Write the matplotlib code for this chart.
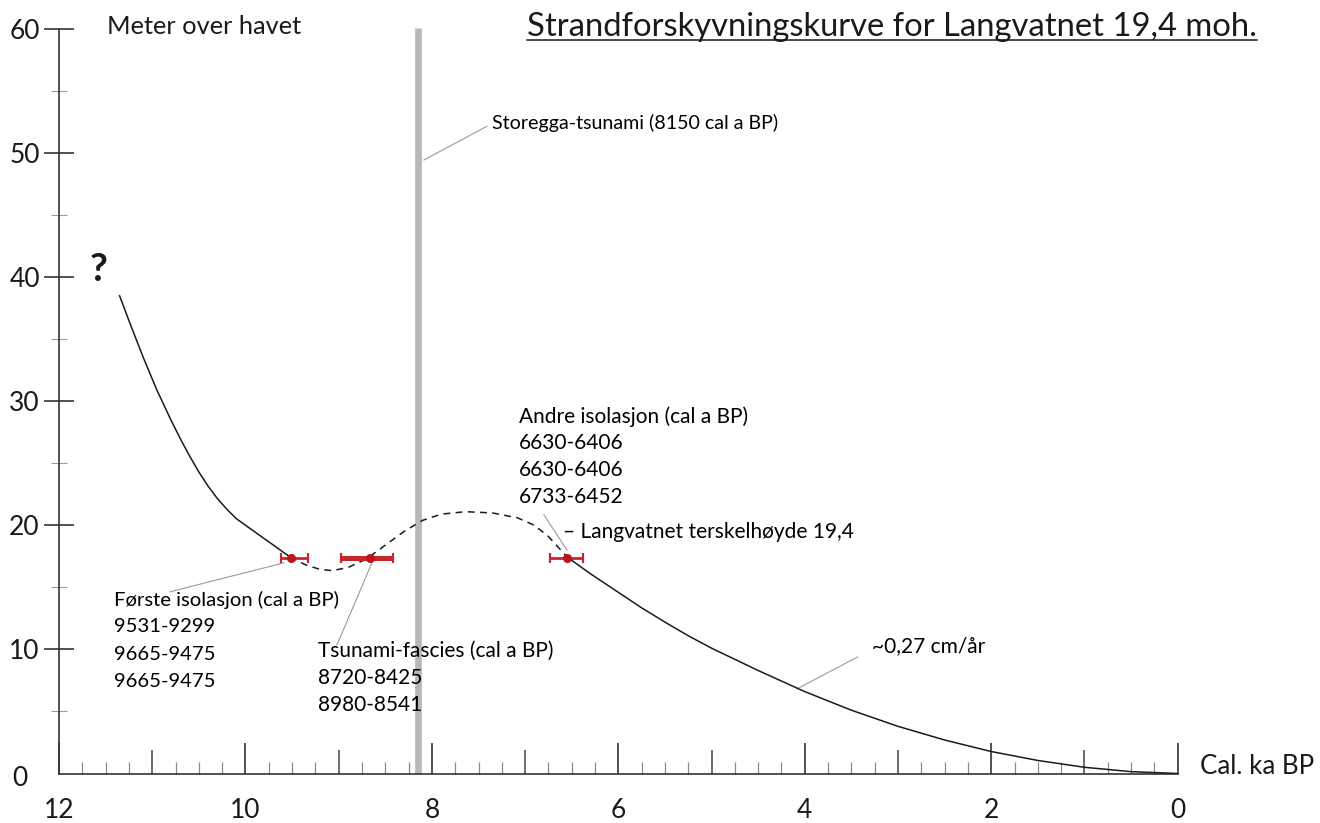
import matplotlib
matplotlib.use("Agg")
import matplotlib.pyplot as plt
from matplotlib.ticker import FixedLocator, NullFormatter
from matplotlib.transforms import ScaledTranslation

plt.rcParams['font.family'] = ['Lato', 'DejaVu Sans']

# strandlinje, heltrukket (eldste del)
old_x = [11.35, 11.25, 11.1, 10.95, 10.8, 10.7, 10.6, 10.5, 10.4, 10.3, 10.2, 10.1, 9.97, 9.52]
old_y = [38.5, 36.5, 33.6, 30.9, 28.5, 27.0, 25.6, 24.3, 23.15, 22.15, 21.3, 20.55, 19.85, 17.44]

# usikker del (stiplet) over tsunamien
dash_x = [9.52, 9.35, 9.2, 9.07, 8.9, 8.7, 8.5, 8.3, 8.1, 7.9, 7.64, 7.35, 7.08, 6.9, 6.75, 6.55]
dash_y = [17.44, 16.8, 16.45, 16.35, 16.6, 17.3, 18.4, 19.5, 20.4, 20.9, 21.1, 21.0, 20.6, 20.0, 19.1, 17.45]

# yngste del ned til i dag
new_x = [6.55, 6.3, 6.0, 5.75, 5.5, 5.25, 5.0, 4.5, 4.0, 3.5, 3.0, 2.5, 2.0, 1.5, 1.0, 0.5, 0]
new_y = [17.45, 16.1, 14.6, 13.35, 12.2, 11.1, 10.1, 8.3, 6.6, 5.1, 3.8, 2.7, 1.77, 1.05, 0.5, 0.15, 0]

# dateringer (ka BP) med spenn
dates = [9.51, 8.66, 6.55]
date_lo = [9.33, 8.42, 6.38]
date_hi = [9.62, 8.98, 6.73]
date_y = 17.4
bar_w = [2.0, 3.6, 2.0]

storegga = 8.15

forste = ["Første isolasjon (cal a BP)", "9531-9299", "9665-9475", "9665-9475"]
tsunami = ["Tsunami-fascies (cal a BP)", "8720-8425", "8980-8541"]
andre = ["Andre isolasjon (cal a BP)", "6630-6406", "6630-6406", "6733-6452"]

fig = plt.figure(figsize=(13.2, 8.23), dpi=100)
ax = fig.add_axes([59 / 1320, (823 - 773.5) / 823, (1177.7 - 59) / 1320, (773.5 - 29) / 823])
ax.set_xlim(12, 0)
ax.set_ylim(0, 60)
for s in ['top', 'right']:
    ax.spines[s].set_visible(False)
for s in ['left', 'bottom']:
    ax.spines[s].set_linewidth(1.2)
    ax.spines[s].set_color('#333333')

# storegga
ax.plot([storegga, storegga], [0, 60.1], color='#b8b8b8', lw=4.8, solid_capstyle='butt', zorder=1, clip_on=False)

# kurven
ax.plot(old_x, old_y, color='#1a1a1a', lw=1.1, zorder=3)
ax.plot(dash_x, dash_y, color='#1a1a1a', lw=1.1, ls=(0, (4.5, 3.5)), zorder=3)
ax.plot(new_x, new_y, color='#1a1a1a', lw=1.1, zorder=3)

for d, lo, hi, w in zip(dates, date_lo, date_hi, bar_w):
    ax.errorbar([d], [date_y], xerr=[[d - lo], [hi - d]], fmt='o', color='#c0141c',
                ecolor='#c8262d', elinewidth=w, capsize=3.8, capthick=1.6, ms=5.5, zorder=4)

# akser
ax.xaxis.set_major_locator(FixedLocator([12, 10, 8, 6, 4, 2, 0]))
quarters = [i / 4 for i in range(48) if i % 4]
ax.xaxis.set_minor_locator(FixedLocator(quarters))
ax.xaxis.set_minor_formatter(NullFormatter())
ax.tick_params(axis='x', which='major', direction='in', length=22.3, width=1.2, color='#333333',
               labelsize=19, pad=17.5, labelcolor='#1a1a1a')
ax.tick_params(axis='x', which='minor', direction='in', length=8.6, width=0.9, color='#8a8a8a')

odd = ax.secondary_xaxis('bottom')
odd.set_xticks([11, 9, 7, 5, 3, 1])
odd.xaxis.set_major_formatter(NullFormatter())
odd.spines['bottom'].set_visible(False)
odd.tick_params(direction='in', length=17.3, width=1.1, color='#444444')

ax.yaxis.set_major_locator(FixedLocator([0, 10, 20, 30, 40, 50, 60]))
ax.yaxis.set_minor_locator(FixedLocator([5, 15, 25, 35, 45, 55]))
ax.tick_params(axis='y', which='major', direction='inout', length=21.6, width=1.2, color='#333333',
               labelsize=19, pad=3, labelcolor='#1a1a1a')
ax.tick_params(axis='y', which='minor', direction='inout', length=11.5, width=0.8, color='#9a9a9a')
t0 = ax.yaxis.get_major_ticks()[0]
t0.tick1line.set_visible(False)
t0.label1.set_transform(t0.label1.get_transform() + ScaledTranslation(-0.12, -0.02, fig.dpi_scale_trans))

ax.text(-0.243, 0, "Cal. ka BP", fontsize=18.6, ha='left', va='baseline', color='#1a1a1a')
ax.text(11.482, 60.2, "Meter over havet", fontsize=18.3, ha='left', va='center', color='#1a1a1a')
ax.text(11.571, 40.6, "?", fontsize=28, fontweight='bold', ha='center', va='center', color='#1a1a1a')

title = ax.text(6.981, 59.44, "Strandforskyvningskurve for Langvatnet 19,4 moh.", fontsize=23.6,
                ha='left', va='baseline', color='#1a1a1a')

# tekster med ledelinjer
lead = dict(color='#9a9a9a', lw=0.8, zorder=2)
ax.text(7.357, 52.4, "Storegga-tsunami (8150 cal a BP)", fontsize=14.1, ha='left', va='center')
ax.plot([8.086, 7.41], [49.44, 52.16], **lead)

for i, s in enumerate(forste):
    ax.text(11.41, 13.99 - i * 2.18, s, fontsize=14.6, ha='left', va='center')
ax.plot([9.587, 10.81], [16.98, 14.64], **lead)

for i, s in enumerate(tsunami):
    ax.text(9.222, 9.88 - i * 2.18, s, fontsize=15, ha='left', va='center')
ax.plot([8.643, 9.019], [16.98, 10.36], **lead)

for i, s in enumerate(andre):
    ax.text(7.067, 28.75 - i * 2.15, s, fontsize=15, ha='left', va='center')
ax.plot([6.799, 6.552], [20.85, 18.02], **lead)

ax.text(6.595, 19.48, "– Langvatnet terskelhøyde 19,4", fontsize=15, ha='left', va='center')
ax.text(3.281, 10.28, "~0,27 cm/år", fontsize=15, ha='left', va='center')
ax.plot([3.432, 4.086], [9.40, 6.81], **lead)

# understreking av tittel
fig.canvas.draw()
bb = title.get_window_extent().transformed(ax.transData.inverted())
ax.plot([bb.x0, bb.x1], [59.1, 59.1], color='#1a1a1a', lw=1.1, clip_on=False)

fig.savefig("out.png", dpi=100)
